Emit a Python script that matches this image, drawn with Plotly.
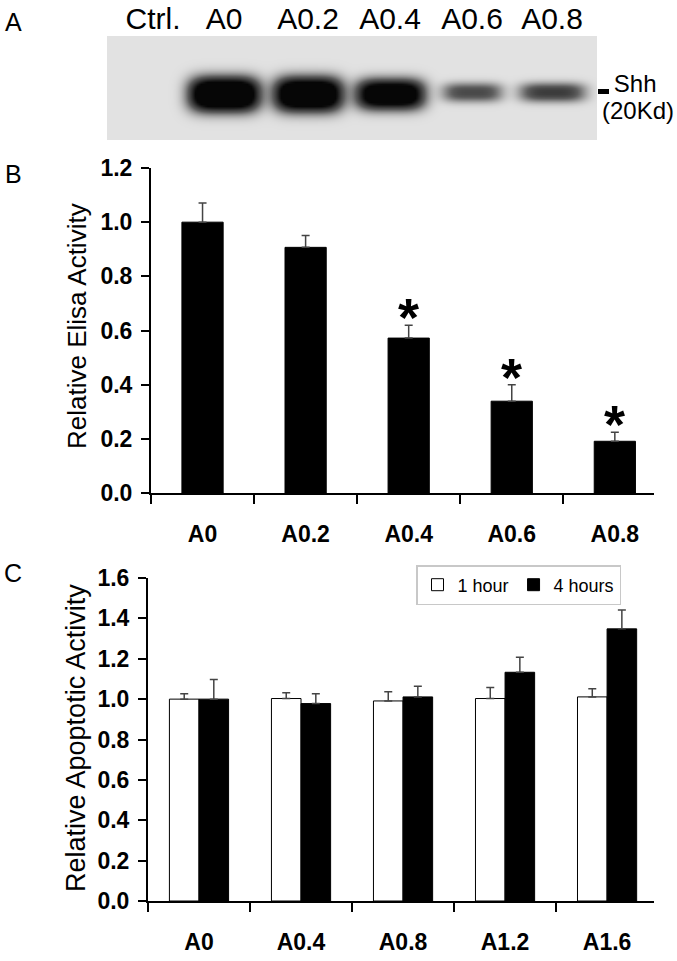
import numpy as np
import plotly.graph_objects as go

# ---------------- data ----------------
# Panel A: western blot lanes
lane_labels = ["Ctrl.", "A0", "A0.2", "A0.4", "A0.6", "A0.8"]
lane_centers = [46, 117, 201, 283, 365, 445]          # blot-axis units
band_intensity = [0.0, 1.6, 1.55, 1.4, 0.62, 0.7]
band_width = [60, 70, 68, 68, 60, 66]
band_height = [16, 34, 34, 30, 19, 19]
band_ycenter = [58, 58, 58, 58, 56, 56]
marker_label = "Shh"
marker_size = "(20Kd)"

# Panel B: Relative Elisa activity
b_cats = ["A0", "A0.2", "A0.4", "A0.6", "A0.8"]
b_vals = [1.0, 0.907, 0.572, 0.339, 0.191]
b_err = [0.071, 0.044, 0.047, 0.061, 0.033]
b_sig = ["", "", "*", "*", "*"]

# Panel C: Relative apoptotic activity
c_cats = ["A0", "A0.4", "A0.8", "A1.2", "A1.6"]
c_1h = [1.0, 1.003, 0.991, 1.003, 1.011]
c_1h_err = [0.027, 0.028, 0.045, 0.054, 0.041]
c_4h = [1.0, 0.978, 1.011, 1.133, 1.348]
c_4h_err = [0.097, 0.049, 0.053, 0.075, 0.094]

W, H = 677, 961
FONT = "Liberation Sans, Arial, sans-serif"

def px_x(p):
    return p / W

def px_y(p):
    return 1 - p / H

fig = go.Figure()

# ---------------- Panel A: blot as heatmap ----------------
bx = np.arange(0, 491, 2.0)
by = np.arange(0, 105, 2.0)
X, Y = np.meshgrid(bx, by)
Z = np.zeros_like(X)
for c, inten, w, h, cy in zip(lane_centers, band_intensity, band_width, band_height, band_ycenter):
    Z += inten * np.exp(-(np.abs(X - c) / (w / 2)) ** 4) * np.exp(-(np.abs(Y - cy) / (h / 2)) ** 2.5)
fig.add_trace(go.Heatmap(
    x=bx, y=by, z=np.clip(Z, 0, 1), zmin=0, zmax=1, zsmooth="best",
    colorscale=[[0, "#e2e2e2"], [0.5, "#5e5e5e"], [1, "#060606"]],
    showscale=False, hoverinfo="skip", xaxis="x3", yaxis="y3",
))

# ---------------- Panel B ----------------
b_x = [i + 0.5 for i in range(len(b_cats))]
fig.add_trace(go.Bar(
    x=b_x, y=b_vals, width=0.4, showlegend=False,
    marker=dict(color="black", line=dict(color="black", width=1)),
    error_y=dict(type="data", symmetric=False, array=b_err, arrayminus=[0] * len(b_err),
                 color="#444444", thickness=1.5, width=4),
    xaxis="x", yaxis="y",
))

# ---------------- Panel C ----------------
c_x = [i + 0.5 for i in range(len(c_cats))]
fig.add_trace(go.Bar(
    x=c_x, y=c_1h, name="1 hour", offsetgroup="1h",
    marker=dict(color="white", line=dict(color="black", width=1)),
    error_y=dict(type="data", symmetric=False, array=c_1h_err, arrayminus=[0] * 5,
                 color="#444444", thickness=1.5, width=4),
    xaxis="x2", yaxis="y2",
))
fig.add_trace(go.Bar(
    x=c_x, y=c_4h, name="4 hours", offsetgroup="4h",
    marker=dict(color="black", line=dict(color="black", width=1)),
    error_y=dict(type="data", symmetric=False, array=c_4h_err, arrayminus=[0] * 5,
                 color="#444444", thickness=1.5, width=4),
    xaxis="x2", yaxis="y2",
))

axis_common = dict(showgrid=False, zeroline=False, showline=True, linecolor="black",
                   linewidth=2, automargin=False)
tickfont = dict(family=FONT, size=23, color="black", weight="bold")

annotations = []
# significance asterisks
for xv, v, e, s in zip(b_x, b_vals, b_err, b_sig):
    if s:
        annotations.append(dict(x=xv, y=v + e, xref="x", yref="y", text=s, showarrow=False,
                                yanchor="bottom", yshift=-24,
                                font=dict(family=FONT, size=54, color="black", weight="bold")))
# panel letters
for letter, (lx, ly) in {"A": (13, 22), "B": (13, 174), "C": (13, 573)}.items():
    annotations.append(dict(x=px_x(lx), y=px_y(ly), xref="paper", yref="paper", text=letter,
                            showarrow=False, xanchor="center", yanchor="middle",
                            font=dict(family=FONT, size=25, color="black")))
# molecular-size label of the blot marker
annotations.append(dict(x=px_x(676), y=px_y(111), xref="paper", yref="paper", text=marker_size,
                        showarrow=False, xanchor="right", yanchor="middle",
                        font=dict(family=FONT, size=24, color="black")))
# y titles
annotations.append(dict(x=px_x(77), y=px_y(326), xref="paper", yref="paper",
                        text="Relative Elisa Activity", textangle=-90, showarrow=False,
                        xanchor="center", yanchor="middle",
                        font=dict(family=FONT, size=26, color="black")))
annotations.append(dict(x=px_x(76), y=px_y(738), xref="paper", yref="paper",
                        text="Relative Apoptotic Activity", textangle=-90, showarrow=False,
                        xanchor="center", yanchor="middle",
                        font=dict(family=FONT, size=27, color="black")))

fig.update_layout(
    width=W, height=H, margin=dict(l=0, r=0, t=0, b=0, pad=0, autoexpand=False),
    paper_bgcolor="white", plot_bgcolor="white",
    barmode="group", bargap=0.42, bargroupgap=0,
    font=dict(family=FONT, color="black"),
    xaxis=dict(**axis_common, domain=[px_x(151), px_x(654)], range=[0, 4.88],
               tickmode="array", tickvals=b_x, ticktext=b_cats, ticks="",
               tickfont=tickfont, ticklabelstandoff=19,
               minor=dict(tickmode="array", tickvals=[0, 1, 2, 3, 4], ticks="outside",
                          ticklen=9, tickwidth=2, tickcolor="black"),
               anchor="y"),
    yaxis=dict(**axis_common, domain=[px_y(493), px_y(168)], range=[0, 1.2],
               tickmode="array", tickvals=[0, 0.2, 0.4, 0.6, 0.8, 1.0, 1.2],
               ticktext=["0.0", "0.2", "0.4", "0.6", "0.8", "1.0", "1.2"],
               ticks="outside", ticklen=8, tickwidth=2, tickcolor="black",
               tickfont=tickfont, ticklabelstandoff=4, anchor="x"),
    xaxis2=dict(**axis_common, domain=[px_x(148), px_x(654)], range=[0, 4.96],
                tickmode="array", tickvals=c_x, ticktext=c_cats, ticks="",
                tickfont=tickfont, ticklabelstandoff=19,
                minor=dict(tickmode="array", tickvals=[0, 1, 2, 3, 4], ticks="outside",
                           ticklen=9, tickwidth=2, tickcolor="black"),
                anchor="y2"),
    yaxis2=dict(**axis_common, domain=[px_y(901), px_y(578)], range=[0, 1.6],
                tickmode="array", tickvals=[0, 0.2, 0.4, 0.6, 0.8, 1.0, 1.2, 1.4, 1.6],
                ticktext=["0.0", "0.2", "0.4", "0.6", "0.8", "1.0", "1.2", "1.4", "1.6"],
                ticks="outside", ticklen=8, tickwidth=2, tickcolor="black",
                tickfont=tickfont, ticklabelstandoff=4, anchor="x2"),
    xaxis3=dict(domain=[px_x(107), px_x(597)], range=[0, 490], showgrid=False, zeroline=False,
                showline=False, side="top", tickmode="array", tickvals=lane_centers,
                ticktext=lane_labels, ticks="", ticklabelstandoff=0, automargin=False,
                tickfont=dict(family=FONT, size=30, color="black"), anchor="y3"),
    yaxis3=dict(domain=[px_y(140), px_y(36)], range=[104, 0], showgrid=False, zeroline=False,
                showline=False, side="right", tickmode="array", tickvals=[55],
                ticktext=[marker_label], ticks="outside", ticklen=11, tickwidth=5,
                tickcolor="black", ticklabelstandoff=0, ticklabelshift=7, automargin=False,
                tickfont=dict(family=FONT, size=24, color="black"), anchor="x3"),
    legend=dict(orientation="h", x=px_x(416), y=px_y(565), xanchor="left", yanchor="top",
                bgcolor="white", bordercolor="#c8c8c8", borderwidth=1.5,
                font=dict(family=FONT, size=18, color="black"), itemwidth=30,
                traceorder="normal"),
    annotations=annotations,
)

fig.write_html("out.html", config={"displayModeBar": False},
               post_script="document.body.style.margin='0px';")
